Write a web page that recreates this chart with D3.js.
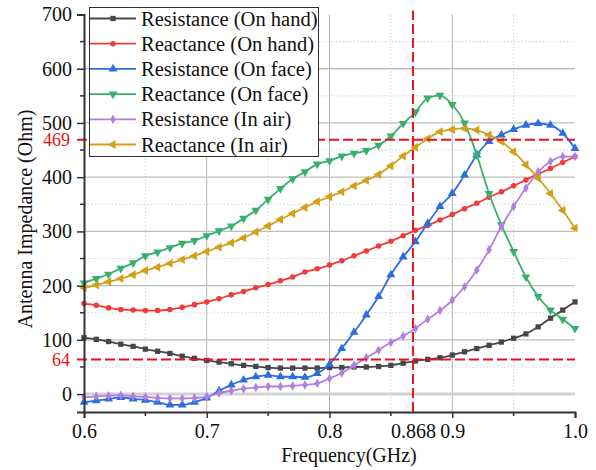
<!DOCTYPE html>
<html><head><meta charset="utf-8">
<script src="https://cdn.jsdelivr.net/npm/d3@7"></script>
<style>html,body{margin:0;padding:0;background:#fff;}svg{display:block;}</style>
</head><body>
<svg id="chart" width="596" height="470"></svg>
<script>
const freq = [0.60,0.61,0.62,0.63,0.64,0.65,0.66,0.67,0.68,0.69,
              0.70,0.71,0.72,0.73,0.74,0.75,0.76,0.77,0.78,0.79,
              0.80,0.81,0.82,0.83,0.84,0.85,0.86,0.87,0.88,0.89,
              0.90,0.91,0.92,0.93,0.94,0.95,0.96,0.97,0.98,0.99,1.00];
const resHand = [104,101,97,92,88,83,79,75,70,66, 62,59,56,53,51,49,48,48,48,48, 49,49,50,50,51,53,57,61,64,67, 72,78,84,90,96,103,111,124,140,155, 170];
const reaHand = [167,164,159,156,155,154,154,156,160,165, 170,176,183,189,196,202,209,216,225,231, 238,246,255,264,273,282,292,302,311,321, 331,342,352,363,373,384,395,406,416,427, 438];
const resFace = [-15,-12,-9,-6,-9,-11,-15,-20,-20,-15, -7,6,17,26,32,35,32,32,31,38, 55,84,114,146,180,220,253,281,315,346, 370,404,441,466,478,488,496,499,496,481, 453];
const reaFace = [205,213,221,232,242,255,262,270,278,283, 292,301,310,324,339,359,379,397,410,424, 430,439,444,449,459,476,499,520,546,551, 534,500,441,370,312,263,216,180,155,138, 121];
const resAir  = [-6,-4,-3,-2,-4,-5,-7,-8,-8,-7, -5,2,6,10,12,14,14,15,17,20, 29,39,53,67,81,95,107,121,138,154, 173,198,229,266,309,346,380,410,429,438, 438];
const reaAir  = [196,201,207,213,220,228,234,241,248,255, 263,271,279,288,299,310,322,333,344,355, 364,373,384,394,405,421,439,455,471,484, 488,490,487,478,466,447,423,398,370,339, 306];

const seriesNames = ["Resistance (On hand)","Reactance (On hand)","Resistance (On face)","Reactance (On face)","Resistance (In air)","Reactance (In air)"];
const seriesValues = [resHand, reaHand, resFace, reaFace, resAir, reaAir];
const seriesColors = ["#474747","#ef3b3b","#2a6fdb","#38b06c","#b27fe0","#d3a01a"];
const seriesShapes = ["square","circle","up","down","diamond","left"];

const xTicks = [0.6,0.7,0.8,0.868,0.9,1.0];
const xTickLabels = ["0.6","0.7","0.8","0.868","0.9","1.0"];
const xMinor = [0.65,0.75,0.85,0.95];
const yTicks = [0,100,200,300,400,500,600,700];
const yMinor = [50,150,250,350,450,550,650];
const markX = 0.868;
const markY = [469,64];

const svg = d3.select("#chart");
const x = d3.scaleLinear().domain([0.6,1.0]).range([84,575]);
const y = d3.scaleLinear().domain([-33,700]).range([412,14.5]);
const font = "'Liberation Serif','Times New Roman',serif";

// grid
const g = svg.append("g");
g.selectAll(".vmin").data(xMinor).join("line")
  .attr("x1",d=>x(d)).attr("x2",d=>x(d)).attr("y1",y.range()[0]).attr("y2",y.range()[1])
  .attr("stroke","#d4d4d4").attr("stroke-width",1).attr("stroke-dasharray","1.5,2");
g.selectAll(".hmin").data(yMinor).join("line")
  .attr("x1",x.range()[0]).attr("x2",x.range()[1]).attr("y1",d=>y(d)).attr("y2",d=>y(d))
  .attr("stroke","#d4d4d4").attr("stroke-width",1).attr("stroke-dasharray","1.5,2");
g.selectAll(".vmaj").data([0.7,0.8,0.9]).join("line")
  .attr("x1",d=>x(d)).attr("x2",d=>x(d)).attr("y1",y.range()[0]).attr("y2",y.range()[1])
  .attr("stroke","#b4b4b4").attr("stroke-width",1);
g.selectAll(".hmaj").data(yTicks.filter(d=>d>0 && d<700)).join("line")
  .attr("x1",x.range()[0]).attr("x2",x.range()[1]).attr("y1",d=>y(d)).attr("y2",d=>y(d))
  .attr("stroke","#bdbdbd").attr("stroke-width",1.3);
g.append("line").attr("x1",x.range()[0]).attr("x2",x.range()[1]).attr("y1",y(0)).attr("y2",y(0))
  .attr("stroke","#d2d2d2").attr("stroke-width",3);

// symbols
function symPath(shape, s){
  const map = {square:d3.symbolSquare, circle:d3.symbolCircle, up:d3.symbolTriangle, down:d3.symbolTriangle, diamond:d3.symbolDiamond, left:d3.symbolTriangle};
  return d3.symbol().type(map[shape]).size(s)();
}
function symRot(shape){ return shape==="down"?180:(shape==="left"?-90:0); }
const symSize = {square:28, circle:24, up:34, down:34, diamond:26, left:34};

const line = d3.line().x((d,i)=>x(freq[i])).y(d=>y(d)).curve(d3.curveMonotoneX);
seriesValues.forEach((vals,k)=>{
  const sg = svg.append("g");
  sg.append("path").datum(vals).attr("d",line).attr("fill","none")
    .attr("stroke",seriesColors[k]).attr("stroke-width",1.8);
  sg.selectAll("path.m").data(vals).join("path").attr("class","m")
    .attr("d",symPath(seriesShapes[k],symSize[seriesShapes[k]]))
    .attr("transform",(d,i)=>`translate(${x(freq[i])},${y(d)}) rotate(${symRot(seriesShapes[k])})`)
    .attr("fill",seriesColors[k]);
});

// red dashed reference lines
const red = "#e8141b";
markY.forEach(v=>{
  svg.append("line").attr("x1",77).attr("x2",x.range()[1]).attr("y1",y(v)).attr("y2",y(v))
    .attr("stroke",red).attr("stroke-width",2).attr("stroke-dasharray","10,4");
});
svg.append("line").attr("x1",x(markX)).attr("x2",x(markX)).attr("y1",y.range()[0]).attr("y2",y.range()[1]-4)
  .attr("stroke",red).attr("stroke-width",2).attr("stroke-dasharray","10,4");

// axes
const xAxis = d3.axisBottom(x).tickValues(xTicks).tickFormat((d,i)=>xTickLabels[i]).tickSize(6).tickPadding(6);
const xa = svg.append("g").attr("transform",`translate(0,${y.range()[0]})`).call(xAxis);
xa.selectAll("path.domain").attr("stroke","#333").attr("stroke-width",2);
xa.selectAll(".tick line").attr("stroke","#333").attr("stroke-width",1.5);
xa.selectAll(".tick text").attr("font-family",font).attr("font-size",20).attr("fill","#111");
xa.selectAll(".tick").filter(d=>d===markX).select("line").remove();
xa.selectAll(".mt").data(xMinor).join("line").attr("x1",d=>x(d)).attr("x2",d=>x(d)).attr("y1",0).attr("y2",4)
  .attr("stroke","#333").attr("stroke-width",1.5);

const yAxis = d3.axisLeft(y).tickValues(yTicks).tickFormat(d3.format("d")).tickSize(7).tickPadding(5);
const ya = svg.append("g").attr("transform",`translate(${x.range()[0]},0)`).call(yAxis);
ya.selectAll("path.domain").attr("stroke","#333").attr("stroke-width",2);
ya.selectAll(".tick line").attr("stroke","#333").attr("stroke-width",1.5);
ya.selectAll(".tick text").attr("font-family",font).attr("font-size",20).attr("fill","#111");
ya.selectAll(".mt").data(yMinor).join("line").attr("x1",-4).attr("x2",0).attr("y1",d=>y(d)).attr("y2",d=>y(d))
  .attr("stroke","#333").attr("stroke-width",1.5);
markY.forEach(v=>{
  ya.append("text").attr("x",-14).attr("y",y(v)).attr("dy","0.35em").attr("text-anchor","end")
    .attr("font-family",font).attr("font-size",18).attr("fill",red).text(v);
});

// titles
svg.append("text").attr("x",349).attr("y",462).attr("text-anchor","middle")
  .attr("font-family",font).attr("font-size",20).attr("fill","#111").text("Frequency(GHz)");
svg.append("text").attr("transform","translate(32,219) rotate(-90)").attr("text-anchor","middle")
  .attr("font-family",font).attr("font-size",20).attr("fill","#111").text("Antenna Impedance (Ohm)");

// legend
const lg = svg.append("g");
lg.append("rect").attr("x",89.5).attr("y",7.5).attr("width",229).attr("height",149)
  .attr("fill","#fff").attr("stroke","#333").attr("stroke-width",1);
seriesNames.forEach((n,k)=>{
  const cy = 18.5 + k*25.2;
  lg.append("line").attr("x1",90).attr("x2",136).attr("y1",cy).attr("y2",cy)
    .attr("stroke",seriesColors[k]).attr("stroke-width",1.8);
  lg.append("path").attr("d",symPath(seriesShapes[k],symSize[seriesShapes[k]]))
    .attr("transform",`translate(113,${cy}) rotate(${symRot(seriesShapes[k])})`).attr("fill",seriesColors[k]);
  lg.append("text").attr("x",141).attr("y",cy).attr("dy","0.35em")
    .attr("font-family",font).attr("font-size",20.5).attr("fill","#111").text(n);
});
</script>
</body></html>
